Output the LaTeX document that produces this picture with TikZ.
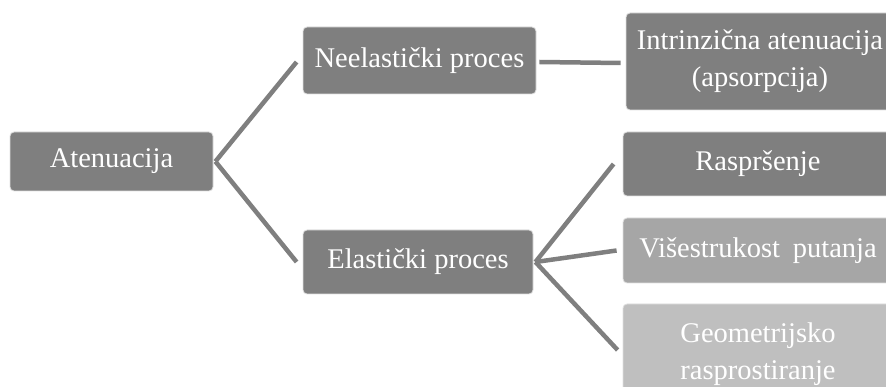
\documentclass[tikz,border=0pt]{standalone}
\usepackage{fontspec}
\setmainfont{Liberation Serif}
\definecolor{dk}{HTML}{7F7F7F}
\definecolor{md}{HTML}{A6A6A6}
\definecolor{lt}{HTML}{BFBFBF}
\definecolor{ln}{HTML}{7F7F7F}
\tikzset{
  box/.style={rectangle, rounded corners=4pt, draw=white!75!gray, line width=0.8pt,
    text=white, inner sep=0pt, align=center, font=\fontsize{28.5}{37}\selectfont},
  conn/.style={draw=ln, line width=4.5pt}
}
\begin{document}
\begin{tikzpicture}[x=1pt,y=-1pt]
\useasboundingbox (0,0) rectangle (886,387);
\begin{scope}
\clip (0,0) rectangle (886,387);
\node[box, fill=dk, minimum width=203pt, minimum height=59pt] (aten) at (111.5,161.5) {Atenuacija};
\node[box, fill=dk, minimum width=233pt, minimum height=67pt] (neel) at (419.5,60.5) {Neelastički proces};
\node[box, fill=dk, minimum width=230pt, minimum height=64pt] (elast) at (418,262) {Elastički proces};
\node[box, fill=dk, minimum width=268pt, minimum height=97pt] (intr) at (760,61.5) {Intrinzična atenuacija\\(apsorpcija)};
\node[box, fill=dk, minimum width=270pt, minimum height=64pt] (rasp) at (758,164) {Raspršenje};
\node[box, fill=md, minimum width=270pt, minimum height=65pt] (vise) at (758,250.5) {Višestrukost\hspace{0.45em}putanja};
\node[box, fill=lt, minimum width=270pt, minimum height=100pt] (geo) at (758,354) {Geometrijsko\\rasprostiranje};
\end{scope}
\coordinate (atE) at ([xshift=2pt]aten.east);
\coordinate (elE) at ([xshift=2pt]elast.east);
\draw[conn] (atE) -- ([xshift=-6pt,yshift=-1.5pt]neel.west);
\draw[conn] (atE) -- ([xshift=-6pt]elast.west);
\draw[conn] ([xshift=3pt,yshift=-1.5pt]neel.east) -- ([xshift=-5pt,yshift=-1.5pt]intr.west);
\draw[conn] (elE) -- ([xshift=-9pt]rasp.west);
\draw[conn] (elE) -- ([xshift=-6pt]vise.west);
\draw[conn] (elE) -- ([xshift=-5pt,yshift=4pt]geo.west);
\end{tikzpicture}
\end{document}
